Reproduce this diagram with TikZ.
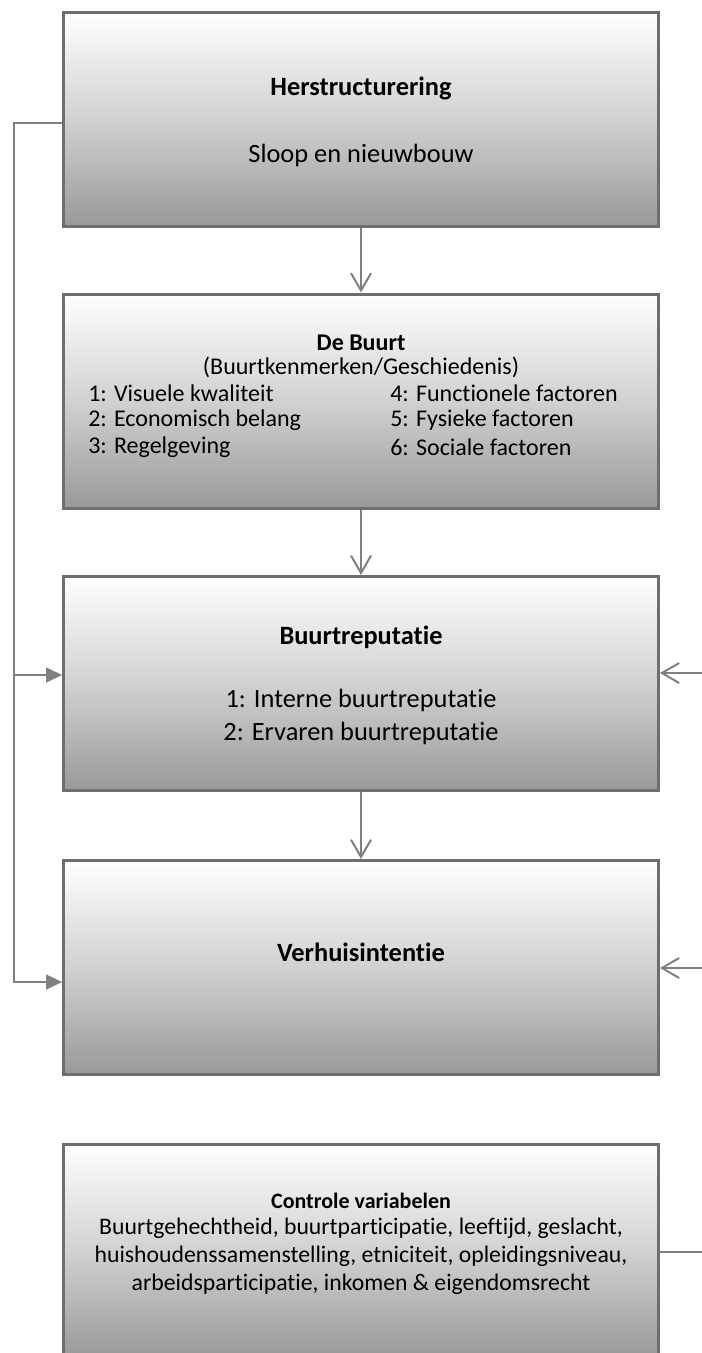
\documentclass[tikz,border=0pt]{standalone}
\usepackage{fontspec}
\setmainfont{Carlito}[Ligatures={NoCommon}]
\usetikzlibrary{arrows.meta}
\definecolor{boxborder}{HTML}{6E6E6E}
\definecolor{connc}{HTML}{808080}
\begin{document}
\begin{tikzpicture}[x=0.75pt,y=-0.75pt,
  box/.style={draw=boxborder, line width=2.25pt, top color=white, bottom color=black!40, middle color=black!18,
    minimum width=446pt, minimum height=160.5pt, inner sep=0pt},
  conn/.style={draw=connc, line width=1.5pt},
  openarr/.style={conn, -{Straight Barb[length=13pt,width=15pt]}},
  fillarr/.style={conn, -{Triangle[length=12pt,width=11pt]}},
  big/.style={font=\fontsize{19.8}{24}\selectfont, inner sep=0pt},
  mid/.style={font=\fontsize{18}{21}\selectfont, inner sep=0pt},
  small/.style={font=\fontsize{17.8}{21}\selectfont, inner sep=0pt}
]
\useasboundingbox (0,0) rectangle (702,1353);

% boxes
\node[box] (b1) at (361,119) {};
\node[box] (b2) at (361,401) {};
\node[box] (b3) at (361,683.5) {};
\node[box] (b4) at (361,967.5) {};
\node[box] (b5) at (361,1251) {};

% box 1 text
\node[big] (t11) at (361,88) {\textbf{Herstructurering}};
\node[big] (t12) at (361,155) {Sloop en nieuwbouw};

% box 2 text
\node[mid] (t21) at (361,343) {\textbf{De Buurt}};
\node[mid] (t22) at (361,367) {(Buurtkenmerken/Geschiedenis)};
\node[mid, anchor=west] (t23) at (88,393) {1: Visuele kwaliteit};
\node[mid, anchor=west] (t24) at (88,420) {2: Economisch belang};
\node[mid, anchor=west] (t25) at (88,447) {3: Regelgeving};
\node[mid, anchor=west] (t26) at (390,393) {4: Functionele factoren};
\node[mid, anchor=west] (t27) at (390,420) {5: Fysieke factoren};
\node[mid, anchor=west] (t28) at (390,447) {6: Sociale factoren};

% box 3 text
\node[big] (t31) at (361,637) {\textbf{Buurtreputatie}};
\node[big] (t32) at (361,700) {1: Interne buurtreputatie};
\node[big] (t33) at (361,733) {2: Ervaren buurtreputatie};

% box 4 text
\node[big] (t41) at (361,952) {\textbf{Verhuisintentie}};

% box 5 text
\node[small, font=\fontsize{16.5}{20}\selectfont] (t51) at (361,1201) {\textbf{Controle variabelen}};
\node[small] (t52) at (361,1228) {Buurtgehechtheid, buurtparticipatie, leeftijd, geslacht,};
\node[small] (t53) at (361,1256) {huishoudenssamenstelling, etniciteit, opleidingsniveau,};
\node[small] (t54) at (361,1284) {arbeidsparticipatie, inkomen \& eigendomsrecht};

% vertical arrows
\draw[openarr] (b1.south) -- (b2.north);
\draw[openarr] (b2.south) -- (b3.north);
\draw[openarr] (b3.south) -- (b4.north);

% left feedback line
\coordinate (l1) at (14,123);
\coordinate (l2) at (14,675);
\coordinate (l3) at (14,982);
\draw[conn] (b1.west |- l1) -- (l1) -- (l2);
\draw[fillarr] (l2) -- (l2 -| b3.west);
\draw[fillarr, line join=miter] (l2) -- (l3) -- (l3 -| b4.west);

% right line from control variables
\coordinate (r1) at (706,673);
\coordinate (r2) at (706,968);
\coordinate (r3) at (706,1252);
\draw[conn] (b5.east |- r3) -- (r3) -- (r1);
\draw[openarr] (r1) -- (r1 -| b3.east);
\draw[openarr] (r2) -- (r2 -| b4.east);
\end{tikzpicture}
\end{document}
